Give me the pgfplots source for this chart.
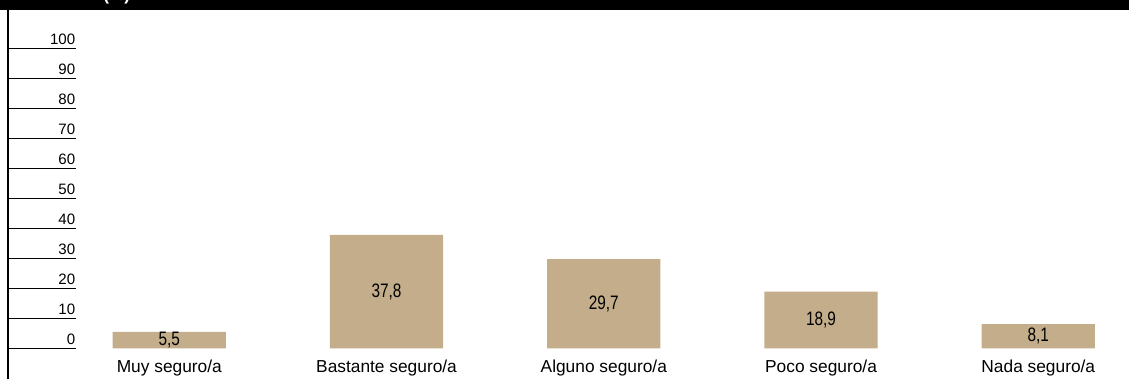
\documentclass[border=0pt]{standalone}
\usepackage{fontspec}
\setmainfont{Liberation Sans}
\newfontfamily\condfont[FakeStretch=0.79]{Liberation Sans}
\usepackage{pgfplots}
\pgfplotsset{compat=1.18}
\definecolor{barcol}{RGB}{196,173,138}
\pgfplotsset{
  frame/.style={
    at={(6pt,-284.25pt)}, anchor=south west,
    x=162.9375pt, y=2.25pt,
    xmin=-0.7425, xmax=4.417,
    ymin=-10.233, ymax=116.1,
    clip=false,
    /pgf/number format/assume math mode=true,
  }
}
\begin{document}
\begin{tikzpicture}
\useasboundingbox (0,0) rectangle (846.75pt,-284.25pt);
% axis with the y scale
\begin{axis}[
  frame,
  axis x line=none,
  axis y line*=left,
  y axis line style={line width=1pt, black},
  ytick={0,10,...,100},
  tick align=inside,
  major tick length=51pt,
  ytick style={line width=0.75pt, black},
  yticklabel style={anchor=south east, inner sep=0pt, xshift=50.6pt, yshift=2.25pt, font=\fontsize{11.3}{13}\selectfont},
]
\end{axis}
% axis with the bars
\begin{axis}[
  frame,
  axis y line=none,
  axis x line*=bottom,
  x axis line style={draw=none},
  major tick length=0pt,
  xtick={0,1,2,3,4},
  xticklabels={Muy seguro/a, Bastante seguro/a, Alguno seguro/a, Poco seguro/a, Nada seguro/a},
  xtick style={draw=none},
  xticklabel style={yshift=18pt, font=\fontsize{13}{15}\selectfont},
  ybar, bar width=85pt,
]
\addplot[fill=barcol, draw=none,
  nodes near coords,
  visualization depends on=rawy \as \rawy,
  every node near coord/.append style={anchor=center, black, font=\condfont\fontsize{14.6}{16}\selectfont, shift={(axis direction cs:0,-\rawy/2)}},
  /pgf/number format/use comma,
  /pgf/number format/fixed,
  /pgf/number format/fixed zerofill,
  /pgf/number format/precision=1,
] coordinates {(0,5.5) (1,37.8) (2,29.7) (3,18.9) (4,8.1)};
\end{axis}
\fill[black] (0,0) rectangle (846.75pt,-7.125pt);
\begin{scope}
\clip (0,0) rectangle (846.75pt,-7.125pt);
\node[white, anchor=base west, inner sep=0pt, font=\bfseries\fontsize{13}{15}\selectfont] at (77.25pt,0) {(\%)};
\end{scope}
\end{tikzpicture}
\end{document}
